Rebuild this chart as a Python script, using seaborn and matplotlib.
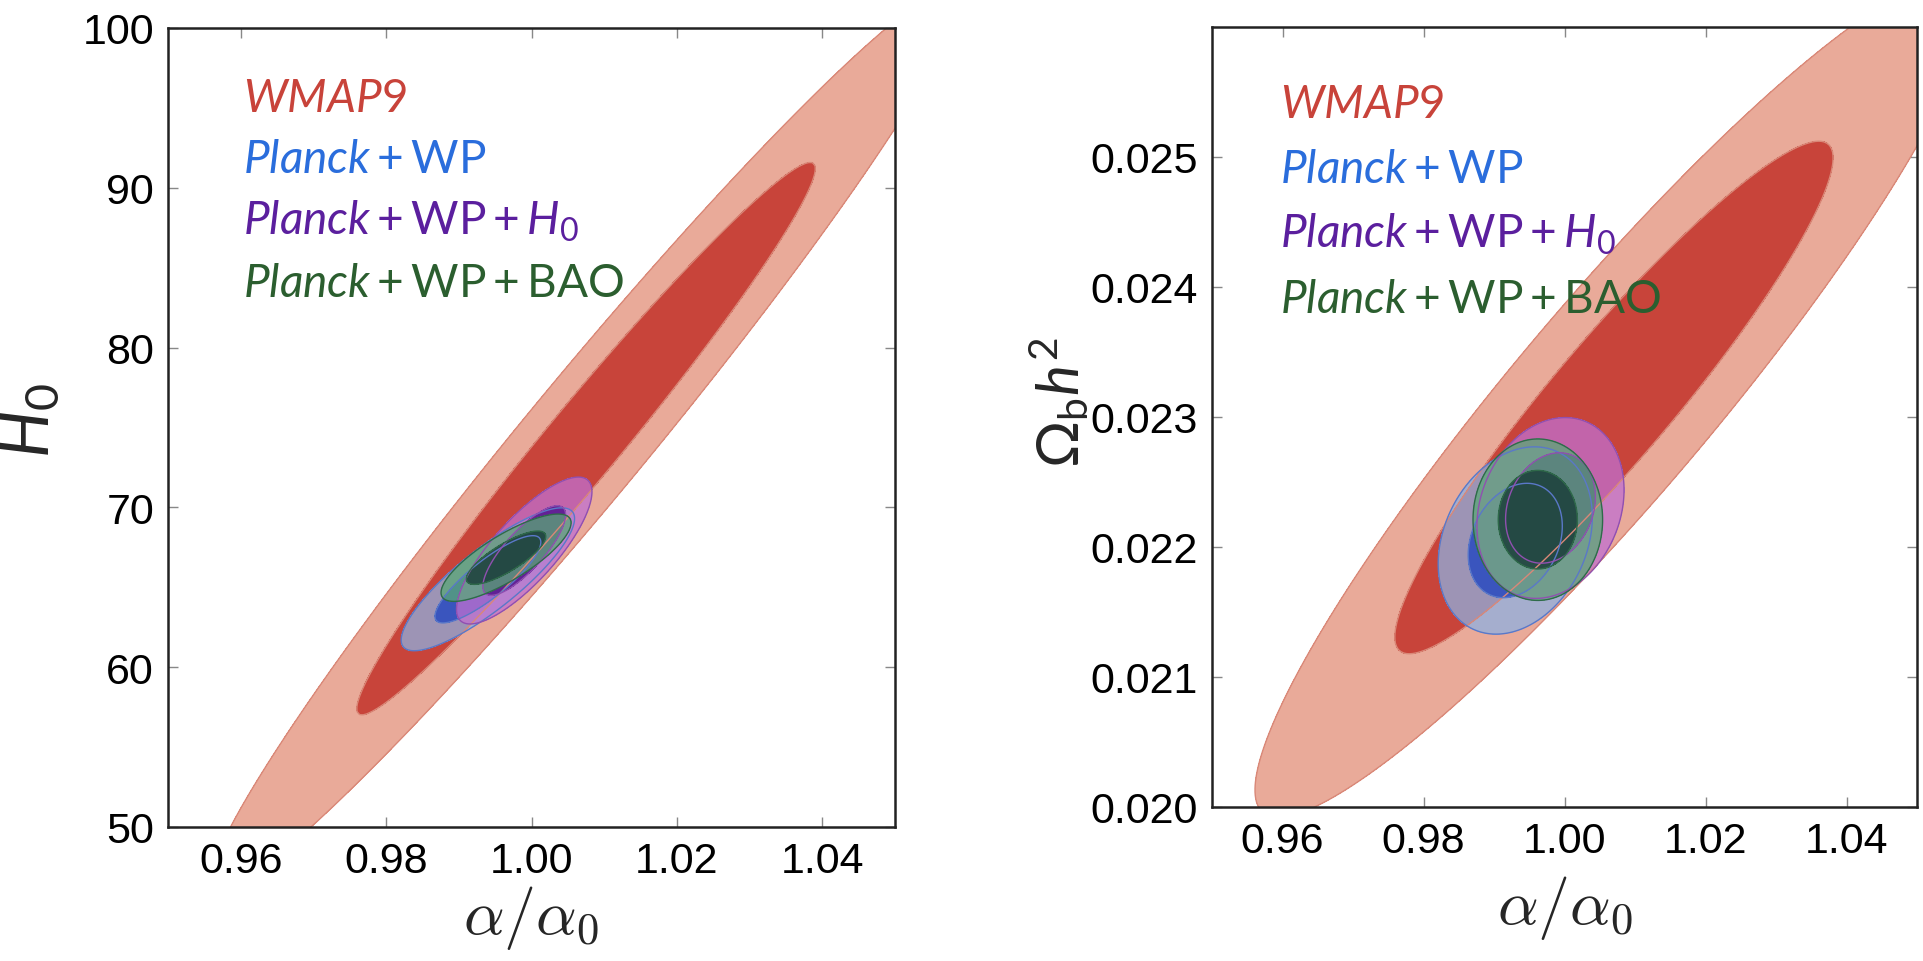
import numpy as np
import matplotlib
matplotlib.use("Agg")
import matplotlib.pyplot as plt
import seaborn as sns

# datasets, drawn bottom to top
datasets = ["WMAP9", "Planck+WP", "Planck+WP+H0", "Planck+WP+BAO"]
labels = [r"$\mathit{WMAP9}$",
          r"$\mathit{Planck}+\mathrm{WP}$",
          r"$\mathit{Planck}+\mathrm{WP}+\mathit{H}_\mathrm{0}$",
          r"$\mathit{Planck}+\mathrm{WP}+\mathrm{BAO}$"]
text_colors = ["#c8433a", "#2a6ddc", "#5b1f9e", "#2b5e2f"]

# Gaussian summaries: alpha/alpha0 vs H0
h0_alpha_mean = [1.0075, 0.9940, 0.9990, 0.9965]
h0_mean = [74.3, 65.5, 67.3, 66.85]
h0_alpha_sig = [0.0208, 0.0048, 0.00375, 0.0036]
h0_sig = [11.4, 1.8, 1.85, 1.1]
h0_rho = [0.978, 0.85, 0.80, 0.80]

# alpha/alpha0 vs Omega_b h^2
ob_alpha_mean = [1.0070, 0.9930, 0.9980, 0.9962]
ob_mean = [0.02315, 0.02205, 0.02230, 0.02221]
ob_alpha_sig = [0.0205, 0.0044, 0.0042, 0.0037]
ob_sig = [0.00130, 0.00029, 0.00028, 0.00025]
ob_rho = [0.935, 0.25, 0.20, 0.0]

x_ticks = [0.96, 0.98, 1.00, 1.02, 1.04]
h0_ticks = [50, 60, 70, 80, 90, 100]
ob_ticks = [0.020, 0.021, 0.022, 0.023, 0.024, 0.025]

outer_colors = ["#e9aa99", "#8fb0e0", "#c070d0", "#5aa877"]
inner_colors = ["#c8443a", "#2f4fc0", "#5a1890", "#1b3f3a"]
outer_alpha = [1.0, 0.75, 0.75, 0.75]
inner_alpha = [1.0, 0.9, 0.9, 0.85]
edge_colors = ["#d98878", "#5a78c8", "#9050b0", "#2f6a4a"]

sns.set_theme(style="ticks")
plt.rcParams["font.family"] = ["Liberation Sans", "DejaVu Sans"]
plt.rcParams["mathtext.fontset"] = "custom"
plt.rcParams["mathtext.rm"] = "Lato"
plt.rcParams["mathtext.it"] = "Lato:italic"
plt.rcParams["mathtext.bf"] = "Lato:bold"
plt.rcParams["mathtext.fallback"] = "stixsans"

fig = plt.figure(figsize=(19.24, 9.62), dpi=100)
ax1 = fig.add_axes([0.0873, 0.1393, 0.3779, 0.8306])
ax2 = fig.add_axes([0.6300, 0.1601, 0.3664, 0.8108])


def draw_panel(ax, mx, my, sx, sy, rho):
    for i in range(len(datasets)):
        xs = np.linspace(mx[i] - 5 * sx[i], mx[i] + 5 * sx[i], 500)
        ys = np.linspace(my[i] - 5 * sy[i], my[i] + 5 * sy[i], 500)
        X, Y = np.meshgrid(xs, ys)
        u = (X - mx[i]) / sx[i]
        v = (Y - my[i]) / sy[i]
        chi2 = (u**2 - 2 * rho[i] * u * v + v**2) / (1 - rho[i]**2)
        ax.contourf(X, Y, chi2, levels=[0, 6.17], colors=[outer_colors[i]],
                    alpha=outer_alpha[i])
        ax.contourf(X, Y, chi2, levels=[0, 2.30], colors=[inner_colors[i]],
                    alpha=inner_alpha[i])
        ax.contour(X, Y, chi2, levels=[2.30, 6.17], colors=[edge_colors[i]],
                   linewidths=1)


draw_panel(ax1, h0_alpha_mean, h0_mean, h0_alpha_sig, h0_sig, h0_rho)
draw_panel(ax2, ob_alpha_mean, ob_mean, ob_alpha_sig, ob_sig, ob_rho)

ax1.set_xlim(0.95, 1.05)
ax1.set_ylim(50, 100)
ax2.set_xlim(0.95, 1.05)
ax2.set_ylim(0.020, 0.026)

for ax in (ax1, ax2):
    ax.set_xticks(x_ticks)
    ax.set_xticklabels([f"{t:.2f}" for t in x_ticks])
    ax.tick_params(direction="in", length=7, width=1, color="#888888",
                   top=True, right=True, labelsize=31, pad=10,
                   labelcolor="black")
    for s in ax.spines.values():
        s.set_color("#222222")
        s.set_linewidth(1.8)
    ax.set_xlabel(r"$\alpha/\alpha_0$", fontsize=46, math_fontfamily="cm")

ax1.xaxis.set_label_coords(0.5, -0.07)
ax2.xaxis.set_label_coords(0.5, -0.085)

ax1.set_yticks(h0_ticks)
ax1.set_yticklabels([str(t) for t in h0_ticks])
ax2.set_yticks(ob_ticks)
ax2.set_yticklabels([f"{t:.3f}" for t in ob_ticks])

ax1.set_ylabel(r"$\mathit{H}_\mathrm{0}$", fontsize=48)
ax1.yaxis.set_label_coords(-0.145, 0.51)
ax2.set_ylabel(r"$\Omega_\mathrm{b}\mathit{h}^\mathrm{2}$", fontsize=42)
ax2.yaxis.set_label_coords(-0.17, 0.52)

left_y = [0.896, 0.820, 0.742, 0.665]
right_y = [0.885, 0.801, 0.718, 0.635]
for lab, col, ly, ry in zip(labels, text_colors, left_y, right_y):
    ax1.text(0.103, ly, lab, color=col, fontsize=33, transform=ax1.transAxes,
             va="baseline", ha="left")
    ax2.text(0.0965, ry, lab, color=col, fontsize=33, transform=ax2.transAxes,
             va="baseline", ha="left")

fig.savefig("out.png", dpi=100)
